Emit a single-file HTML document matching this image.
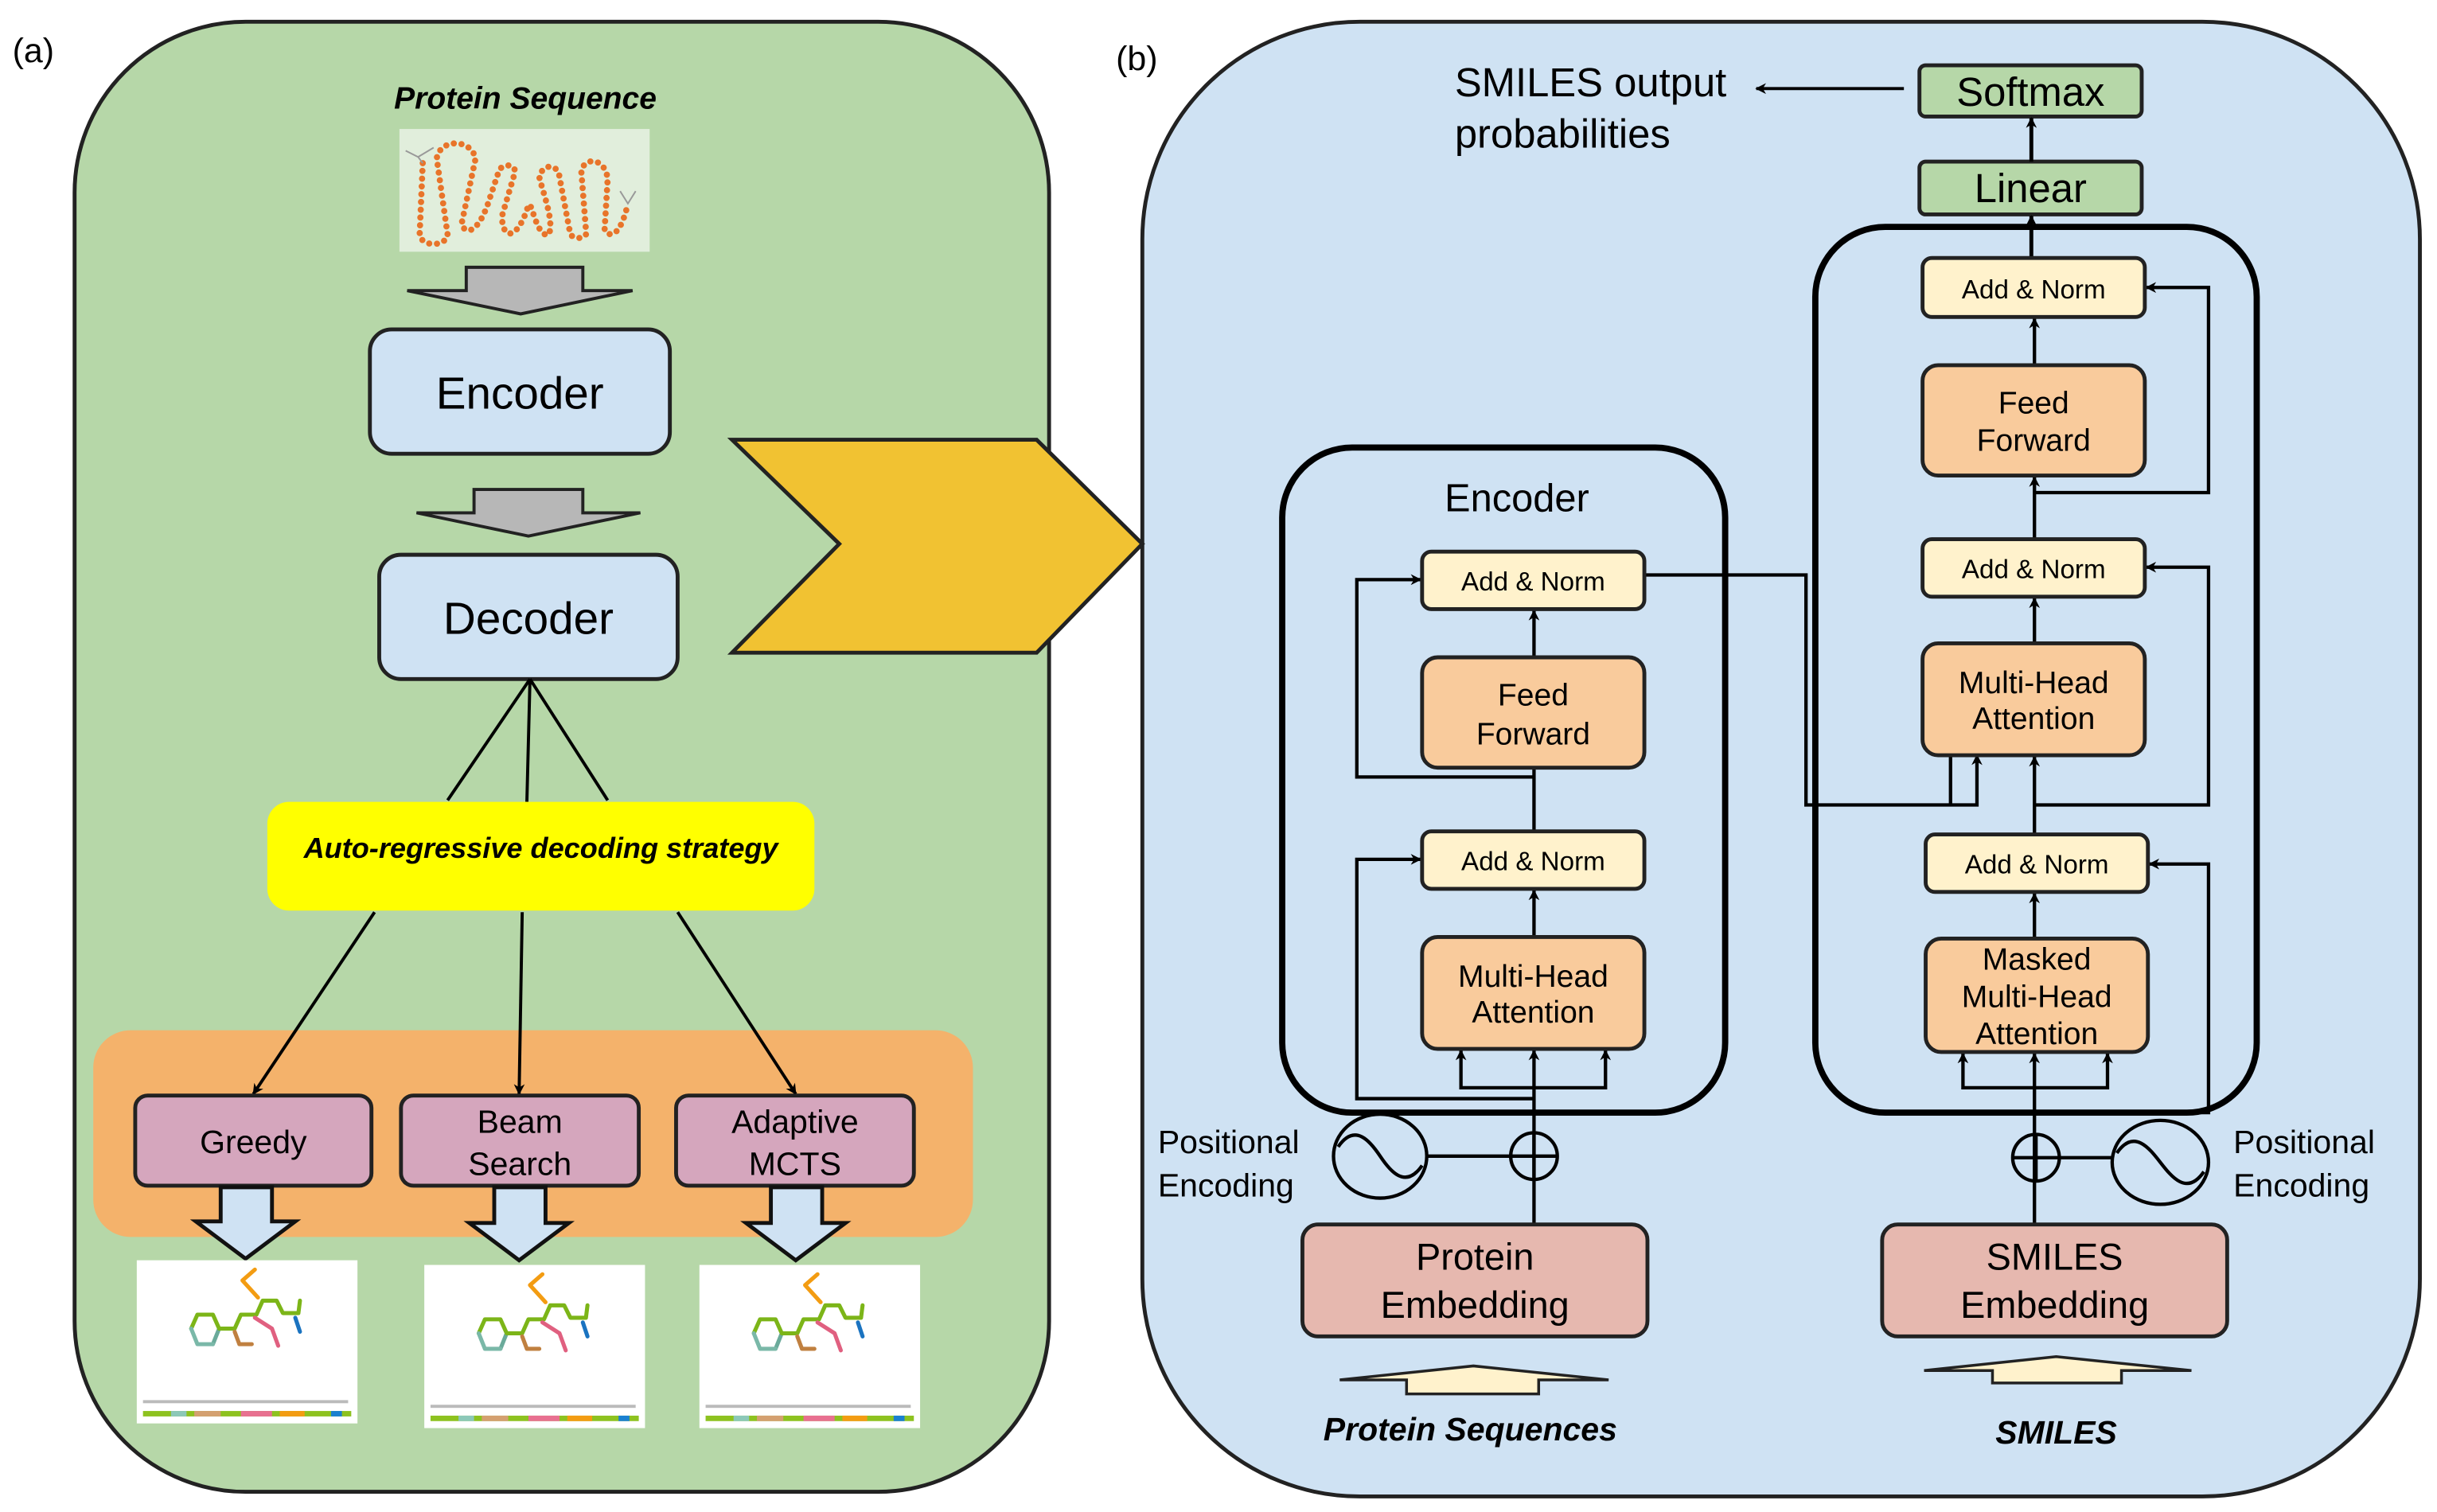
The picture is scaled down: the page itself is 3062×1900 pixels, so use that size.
<!DOCTYPE html>
<html><head><meta charset="utf-8"><style>
html,body{margin:0;padding:0;background:#fff;}
svg{display:block;}
text{font-family:"Liberation Sans",Arial,sans-serif;}
</style></head><body>
<svg width="3062" height="1900" viewBox="0 0 1568 973" preserveAspectRatio="none" xmlns="http://www.w3.org/2000/svg">
<defs>
<marker id="ah" viewBox="0 0 10 10" refX="9" refY="5" markerWidth="7" markerHeight="7" markerUnits="userSpaceOnUse" orient="auto"><path d="M0,0 L10,5 L0,10 L3,5 z" fill="#000"/></marker>
<g id="mol">
  <rect x="0" y="0" width="142" height="105" fill="#fff"/>
  <g fill="none" stroke-width="2.6" stroke-linecap="round" stroke-linejoin="round">
    <polyline points="35,44 39,35 49,35 53,44" stroke="#7cb518"/>
    <polyline points="53,44 49,54" stroke="#6aaa9a"/>
    <polyline points="49,54 39,54 35,44" stroke="#7ab8a8"/>
    <polyline points="53,44 63,44 67,35 77,35 81,26 90,26 94,34 104,34 105,26" stroke="#7cb518"/>
    <polyline points="102,37 105,46" stroke="#1a73c0"/>
    <polyline points="78,24 68,13 76,6" stroke="#f39c12"/>
    <polyline points="76,37 87,44 91,55" stroke="#e06080"/>
    <polyline points="63,46 66,54 74,54 M66,54 62,64" stroke="#c08040"/>
  </g>
  <rect x="4" y="90" width="132" height="2" fill="#bbb"/>
  <rect x="4" y="97" width="134" height="3.5" fill="#8dc21f"/>
  <rect x="22" y="97" width="10" height="3.5" fill="#8cc8b8"/>
  <rect x="37" y="97" width="17" height="3.5" fill="#d4a070"/>
  <rect x="67" y="97" width="20" height="3.5" fill="#e87090"/>
  <rect x="92" y="97" width="16" height="3.5" fill="#f39c12"/>
  <rect x="125" y="97" width="7" height="3.5" fill="#1a80d0"/>
</g>
</defs>

<!-- Panel (a) -->
<rect x="48" y="14" width="627" height="946" rx="110" fill="#b6d7a8" stroke="#222" stroke-width="2.5"/>
<text x="8" y="40" font-size="22">(a)</text>
<text x="338" y="70" font-size="20" font-weight="bold" font-style="italic" text-anchor="middle">Protein Sequence</text>
<rect x="257" y="83" width="161" height="79" fill="#e1eedc"/>
<path transform="translate(257,83)" d="M15,22 L13,68 C14,76 30,76 31,68 L24,19 C26,6 46,6 49,19 L40,61 C42,68 50,68 57,48 L64,27 C66,22 76,22 74,29 L66,56 C66,72 76,72 83,49 C85,45 88,70 96,68 C100,60 92,40 90,31 C92,22 102,22 103,31 L110,68 C114,72 122,70 120,65 L117,27 C119,18 132,18 134,32 L132,65 C135,70 142,70 147,48" fill="none" stroke="#e8742a" stroke-width="4" stroke-linecap="round" stroke-dasharray="0 5"/>
<path transform="translate(257,83)" d="M4,14 L12,18 L22,12 M15,22 L12,18 M142,40 L147,48 L152,40" fill="none" stroke="#999" stroke-width="1"/>
<path d="M300,172 H375 V187 H407 L335,202 L262,187 H300 Z" fill="#b7b7b7" stroke="#222" stroke-width="2"/>
<rect x="238" y="212" width="193" height="80" rx="14" fill="#cfe2f3" stroke="#222" stroke-width="2.5"/>
<text x="334.5" y="263" font-size="29" text-anchor="middle">Encoder</text>
<path d="M305,315 H375 V330 H412 L340,345 L268,330 H305 Z" fill="#b7b7b7" stroke="#222" stroke-width="2"/>
<rect x="244" y="357" width="192" height="80" rx="14" fill="#cfe2f3" stroke="#222" stroke-width="2.5"/>
<text x="340" y="408" font-size="29" text-anchor="middle">Decoder</text>
<path d="M341,437 L288,515 M341,437 L339,516 M341,437 L391,515" stroke="#000" stroke-width="2" fill="none"/>
<rect x="60" y="663" width="566" height="133" rx="24" fill="#f4b26b"/>
<rect x="172" y="516" width="352" height="70" rx="14" fill="#ffff00"/>
<text x="348" y="552" font-size="18.5" font-weight="bold" font-style="italic" text-anchor="middle">Auto-regressive decoding strategy</text>
<g stroke="#000" stroke-width="2" fill="none">
<line x1="241" y1="587" x2="163" y2="704" marker-end="url(#ah)"/>
<line x1="336" y1="587" x2="334" y2="704" marker-end="url(#ah)"/>
<line x1="436" y1="587" x2="512" y2="704" marker-end="url(#ah)"/>
</g>
<g stroke="#222" stroke-width="2.5" fill="#d5a6bd">
<rect x="87" y="705" width="152" height="58" rx="8"/>
<rect x="258" y="705" width="153" height="58" rx="8"/>
<rect x="435" y="705" width="153" height="58" rx="8"/>
</g>
<text x="163" y="742" font-size="21" text-anchor="middle">Greedy</text>
<text x="334.5" y="729" font-size="21" text-anchor="middle">Beam</text>
<text x="334.5" y="756" font-size="21" text-anchor="middle">Search</text>
<text x="511.5" y="729" font-size="21" text-anchor="middle">Adaptive</text>
<text x="511.5" y="756" font-size="21" text-anchor="middle">MCTS</text>
<g fill="#cfe2f3" stroke="#111" stroke-width="2.5">
<path d="M142,764 H175 V786 H190 L158,810 L126,786 H142 Z"/>
<path d="M318,764 H351 V787 H366 L334,811 L302,787 H318 Z"/>
<path d="M496,764 H529 V787 H544 L512,811 L480,787 H496 Z"/>
</g>
<use href="#mol" x="88" y="811"/>
<use href="#mol" x="273" y="814"/>
<use href="#mol" x="450" y="814"/>

<!-- Panel (b) -->
<rect x="735" y="14" width="822" height="949" rx="140" fill="#cfe2f3" stroke="#222" stroke-width="2.5"/>
<polygon points="471,283 667,283 735,350 667,420 471,420 540,350" fill="#f1c232" stroke="#222" stroke-width="2.5"/>
<text x="718" y="45" font-size="22">(b)</text>
<text x="936" y="62" font-size="26">SMILES output</text>
<text x="936" y="95" font-size="26">probabilities</text>
<line x1="1225" y1="57" x2="1130" y2="57" stroke="#000" stroke-width="2" marker-end="url(#ah)"/>
<g stroke="#222" stroke-width="2.5" fill="#b6d7a8">
<rect x="1235" y="42" width="143" height="33" rx="4"/>
<rect x="1235" y="104" width="143" height="34" rx="4"/>
</g>
<text x="1306.5" y="68" font-size="26" text-anchor="middle">Softmax</text>
<text x="1306.5" y="130" font-size="26" text-anchor="middle">Linear</text>
<g stroke="#000" stroke-width="2.5" fill="none">
<line x1="1307" y1="104" x2="1307" y2="76" marker-end="url(#ah)"/>
<line x1="1307" y1="166" x2="1307" y2="139" marker-end="url(#ah)"/>
</g>
<rect x="1168" y="146" width="284" height="570" rx="45" fill="none" stroke="#000" stroke-width="4"/>
<rect x="825" y="288" width="285" height="428" rx="45" fill="none" stroke="#000" stroke-width="4"/>
<text x="976" y="329" font-size="25" text-anchor="middle">Encoder</text>

<!-- encoder connectors -->
<g stroke="#000" stroke-width="2.2" fill="none">
<path d="M987,788 V676" marker-end="url(#ah)"/>
<path d="M987,700 H940 V676" marker-end="url(#ah)"/>
<path d="M987,700 H1033 V676" marker-end="url(#ah)"/>
<path d="M987,603 V573" marker-end="url(#ah)"/>
<path d="M987,535 V495" />
<path d="M987,423 V393" marker-end="url(#ah)"/>
<path d="M987,707 H873 V553 H914" marker-end="url(#ah)"/>
<path d="M987,500 H873 V373 H914" marker-end="url(#ah)"/>
<path d="M1058,370 H1162 V518 H1272 V486" marker-end="url(#ah)"/>
<path d="M1255,518 V481" marker-end="url(#ah)"/>
<path d="M918,744 H972"/>
</g>
<g stroke="#222" stroke-width="2.5">
<rect x="915" y="355" width="143" height="37" rx="6" fill="#fff2cc"/>
<rect x="915" y="423" width="143" height="71" rx="10" fill="#f9cb9c"/>
<rect x="915" y="535" width="143" height="37" rx="6" fill="#fff2cc"/>
<rect x="915" y="603" width="143" height="72" rx="10" fill="#f9cb9c"/>
</g>
<text x="986.5" y="380" font-size="17" text-anchor="middle">Add &amp; Norm</text>
<text x="986.5" y="454" font-size="20" text-anchor="middle">Feed</text>
<text x="986.5" y="479" font-size="20" text-anchor="middle">Forward</text>
<text x="986.5" y="560" font-size="17" text-anchor="middle">Add &amp; Norm</text>
<text x="986.5" y="635" font-size="20" text-anchor="middle">Multi-Head</text>
<text x="986.5" y="658" font-size="20" text-anchor="middle">Attention</text>

<!-- decoder connectors -->
<g stroke="#000" stroke-width="2.2" fill="none">
<path d="M1309,788 V678" marker-end="url(#ah)"/>
<path d="M1309,700 H1263 V678" marker-end="url(#ah)"/>
<path d="M1309,700 H1356 V678" marker-end="url(#ah)"/>
<path d="M1309,604 V575" marker-end="url(#ah)"/>
<path d="M1309,537 V487" marker-end="url(#ah)"/>
<path d="M1309,414 V385" marker-end="url(#ah)"/>
<path d="M1309,347 V307" marker-end="url(#ah)"/>
<path d="M1309,235 V205" marker-end="url(#ah)"/>
<path d="M1309,716 H1421 V556 H1383" marker-end="url(#ah)"/>
<path d="M1309,518 H1421 V365 H1381" marker-end="url(#ah)"/>
<path d="M1309,317 H1421 V185 H1381" marker-end="url(#ah)"/>
<path d="M1325,745 H1360"/>
</g>
<g stroke="#222" stroke-width="2.5">
<rect x="1237" y="166" width="143" height="38" rx="6" fill="#fff2cc"/>
<rect x="1237" y="235" width="143" height="71" rx="10" fill="#f9cb9c"/>
<rect x="1237" y="347" width="143" height="37" rx="6" fill="#fff2cc"/>
<rect x="1237" y="414" width="143" height="72" rx="10" fill="#f9cb9c"/>
<rect x="1239" y="537" width="143" height="37" rx="6" fill="#fff2cc"/>
<rect x="1239" y="604" width="143" height="73" rx="10" fill="#f9cb9c"/>
</g>
<text x="1308.5" y="192" font-size="17" text-anchor="middle">Add &amp; Norm</text>
<text x="1308.5" y="266" font-size="20" text-anchor="middle">Feed</text>
<text x="1308.5" y="290" font-size="20" text-anchor="middle">Forward</text>
<text x="1308.5" y="372" font-size="17" text-anchor="middle">Add &amp; Norm</text>
<text x="1308.5" y="446" font-size="20" text-anchor="middle">Multi-Head</text>
<text x="1308.5" y="469" font-size="20" text-anchor="middle">Attention</text>
<text x="1310.5" y="562" font-size="17" text-anchor="middle">Add &amp; Norm</text>
<text x="1310.5" y="624" font-size="20" text-anchor="middle">Masked</text>
<text x="1310.5" y="648" font-size="20" text-anchor="middle">Multi-Head</text>
<text x="1310.5" y="672" font-size="20" text-anchor="middle">Attention</text>

<!-- positional encodings -->
<g stroke="#000" stroke-width="2.2" fill="none">
<ellipse cx="888" cy="744" rx="30" ry="27"/>
<path d="M861,738 C872,722 882,735 888,744 C894,753 904,766 915,750"/>
<circle cx="987" cy="744" r="15"/>
<path d="M972,744 H1002 M987,729 V759"/>
<ellipse cx="1390" cy="748" rx="31" ry="27"/>
<path d="M1362,742 C1373,726 1383,739 1390,748 C1397,757 1407,770 1418,754"/>
<circle cx="1310" cy="745" r="15"/>
<path d="M1295,745 H1325 M1310,730 V760"/>
</g>
<text x="745" y="742" font-size="21">Positional</text>
<text x="745" y="770" font-size="21">Encoding</text>
<text x="1437" y="742" font-size="21">Positional</text>
<text x="1437" y="770" font-size="21">Encoding</text>

<g stroke="#222" stroke-width="2.5" fill="#e6b8af">
<rect x="838" y="788" width="222" height="72" rx="10"/>
<rect x="1211" y="788" width="222" height="72" rx="10"/>
</g>
<text x="949" y="817" font-size="24" text-anchor="middle">Protein</text>
<text x="949" y="848" font-size="24" text-anchor="middle">Embedding</text>
<text x="1322" y="817" font-size="24" text-anchor="middle">SMILES</text>
<text x="1322" y="848" font-size="24" text-anchor="middle">Embedding</text>

<g fill="#fff2cc" stroke="#222" stroke-width="1.8">
<path d="M905,897 V888 H862 L948,879 L1035,888 H990 V897 Z"/>
<path d="M1282,890 V882 H1238 L1323,873 L1410,882 H1365 V890 Z"/>
</g>
<text x="946" y="927" font-size="21" font-weight="bold" font-style="italic" text-anchor="middle">Protein Sequences</text>
<text x="1323" y="929" font-size="21" font-weight="bold" font-style="italic" text-anchor="middle">SMILES</text>
</svg>
</body></html>
